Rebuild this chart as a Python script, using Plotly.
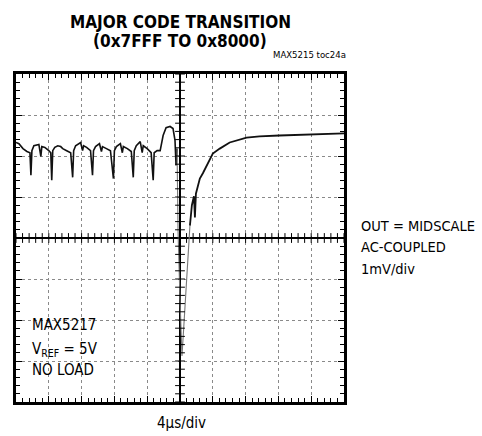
import numpy as np
import plotly.graph_objects as go

# time in us (0 = code transition), output in mV (AC-coupled)
ripple_t = [-20.00, -19.64, -19.15, -18.67, -18.30, -18.18, -18.06, -17.82, -17.21, -16.97,
            -16.85, -16.48, -16.00, -15.76, -15.64, -15.52, -15.27, -14.91, -14.55, -14.30,
            -13.82, -13.33, -13.09, -12.97, -12.73, -12.12, -11.88, -11.76, -11.39, -10.91,
            -10.67, -10.55, -10.30, -9.82, -9.58, -9.45, -8.97, -8.48, -8.12, -8.00,
            -7.76, -7.27, -7.03, -6.91, -6.42, -5.94, -5.70, -5.58, -5.33, -4.85,
            -4.61, -4.48, -4.00, -3.52, -3.27, -3.15, -2.79, -2.42, -2.06, -1.70,
            -1.21, -0.85, -0.61, -0.48, -0.36]
ripple_v = [2.33, 2.30, 2.18, 2.11, 2.08, 1.53, 2.13, 2.25, 2.28, 1.99,
            2.23, 2.21, 2.13, 2.08, 1.41, 2.13, 2.21, 2.25, 2.23, 2.18,
            2.13, 2.08, 1.48, 2.13, 2.25, 2.33, 2.13, 2.25, 2.21, 2.13,
            1.53, 2.13, 2.23, 2.30, 2.11, 2.23, 2.18, 2.13, 1.45, 2.13,
            2.23, 2.30, 2.08, 2.23, 2.18, 2.11, 1.48, 2.13, 2.25, 2.35,
            2.08, 2.25, 2.18, 2.08, 1.41, 2.08, 2.13, 2.13, 2.50, 2.69,
            2.72, 2.67, 2.38, 1.77, 2.18]

edge_t = [-0.36, -0.24, 0.00, 0.24, 0.48, 0.73, 0.97, 1.21]
edge_v = [2.18, 0.19, -1.50, -2.88, -2.10, -1.20, -0.30, 0.30]

settle_t = [1.21, 1.45, 1.70, 1.82, 1.94, 2.18, 2.42, 2.79, 3.27, 3.64,
            4.00, 4.85, 6.06, 8.12, 9.70, 12.12, 14.55, 16.97, 20.00]
settle_v = [0.30, 0.80, 1.02, 0.50, 1.08, 1.24, 1.45, 1.58, 1.77, 1.89,
            2.06, 2.18, 2.33, 2.45, 2.48, 2.50, 2.51, 2.52, 2.55]

X_RANGE = [-20, 20]
Y_RANGE = [-4, 4]
X_DIV = 4.0
Y_DIV = 1.0

FONT = "DejaVu Sans Condensed, Liberation Sans Narrow, sans-serif"

fig = go.Figure()
fig.add_trace(go.Scatter(x=ripple_t, y=ripple_v, mode="lines",
                         line=dict(color="#111111", width=1.6), hoverinfo="skip"))
fig.add_trace(go.Scatter(x=edge_t, y=edge_v, mode="lines",
                         line=dict(color="#777777", width=1.1), hoverinfo="skip"))
fig.add_trace(go.Scatter(x=settle_t, y=settle_v, mode="lines",
                         line=dict(color="#111111", width=1.8), hoverinfo="skip"))

# minor tick crosses along the centre axes
mx = np.arange(X_RANGE[0], X_RANGE[1] + 1e-9, X_DIV / 5)
my = np.arange(Y_RANGE[0], Y_RANGE[1] + 1e-9, Y_DIV / 5)
fig.add_trace(go.Scatter(x=mx, y=[0] * len(mx), mode="markers",
                         marker=dict(symbol="line-ns", size=7, line=dict(color="black", width=1)),
                         hoverinfo="skip"))
fig.add_trace(go.Scatter(x=[0] * len(my), y=my, mode="markers",
                         marker=dict(symbol="line-ew", size=7, line=dict(color="black", width=1)),
                         hoverinfo="skip"))

axis_common = dict(showgrid=True, griddash="dot", gridcolor="#8a8a8a", gridwidth=1,
                   zeroline=True, zerolinecolor="black", zerolinewidth=1.5,
                   showline=True, linecolor="black", linewidth=3, mirror="ticks",
                   ticks="inside", ticklen=6, tickcolor="black", tickwidth=1,
                   showticklabels=False, fixedrange=True)

fig.update_xaxes(range=X_RANGE, dtick=X_DIV, tick0=0,
                 minor=dict(dtick=X_DIV / 5, ticks="inside", ticklen=4, tickcolor="black", showgrid=False),
                 **axis_common)
fig.update_yaxes(range=Y_RANGE, dtick=Y_DIV, tick0=0,
                 minor=dict(dtick=Y_DIV / 5, ticks="inside", ticklen=4, tickcolor="black", showgrid=False),
                 **axis_common)

def ann(text, x, y, size, xanchor="left", bold=False):
    fig.add_annotation(text=("<b>%s</b>" % text) if bold else text, x=x, y=y,
                       xref="paper", yref="paper", showarrow=False,
                       xanchor=xanchor, yanchor="middle", borderpad=0,
                       font=dict(family=FONT, size=size, color="black"))

ann("MAJOR CODE TRANSITION", 0.5, 1.16, 17, "center", bold=True)
ann("(0x7FFF TO 0x8000)", 0.5, 1.102, 17, "center", bold=True)
ann("MAX5215 toc24a", 1.009, 1.058, 9.5, "right")
ann("OUT = MIDSCALE", 1.050, 0.537, 14.5)
ann("AC-COUPLED", 1.050, 0.473, 14.5)
ann("1mV/div", 1.050, 0.405, 14.5)
ann("MAX5217", 0.046, 0.235, 15)
ann("V<sub>REF</sub> = 5V", 0.046, 0.159, 15)
ann("NO LOAD", 0.046, 0.098, 15)
ann("4µs/div", 0.506, -0.064, 15, "center")

fig.update_layout(width=482, height=436, showlegend=False,
                  margin=dict(l=16, r=138, t=74, b=34),
                  paper_bgcolor="white", plot_bgcolor="white")

fig.write_html("out.html", config={"displayModeBar": False, "staticPlot": True},
               post_script="document.body.style.margin='0px';")
